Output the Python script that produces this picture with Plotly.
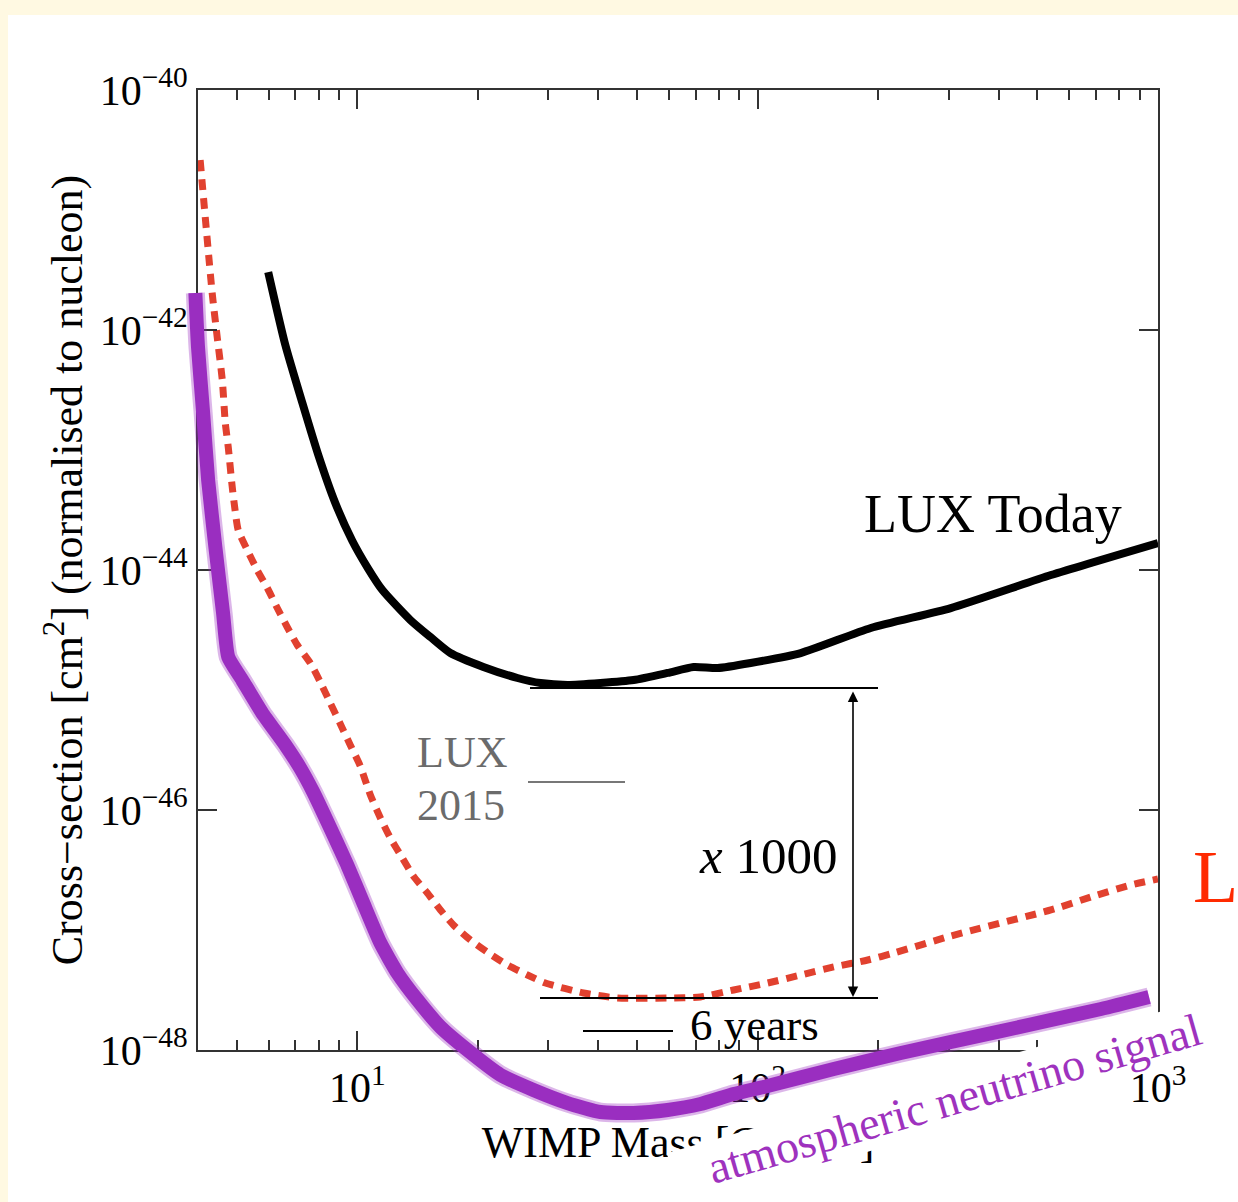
import numpy as np
import plotly.graph_objects as go

# ---------------- data ----------------
# WIMP mass [GeV] and log10(cross-section [cm^2])
lux_today_mass = [5.99, 6.61, 7.29, 7.99, 8.81, 9.72, 10.66, 11.55, 13.57, 15.22, 17.08, 20.65,
                  25.12, 28.68, 33.5, 40.5, 48.98, 59.57, 69.18, 79.43, 96.05, 128.1, 191.7,
                  303.7, 540.1, 1000.0]
lux_today_logsig = [-41.517, -42.125, -42.608, -43.042, -43.442, -43.758, -43.992, -44.167, -44.417,
                    -44.558, -44.692, -44.808, -44.9, -44.942, -44.958, -44.942, -44.917, -44.858,
                    -44.808, -44.817, -44.775, -44.692, -44.483, -44.317, -44.042, -43.775]

lux2015_mass = [4.05, 4.34, 4.47, 4.60, 4.68, 4.76, 4.87, 4.95, 5.04, 5.31, 5.62, 5.96, 6.31, 6.68,
                7.08, 7.63, 8.08, 8.56, 9.07, 9.60, 10.17, 10.78, 11.42, 12.09, 12.96, 13.80, 14.96,
                16.13, 17.38, 19.17, 21.27, 23.71, 26.61, 29.51, 36.73, 44.67, 59.57, 72.0, 87.1,
                105.9, 128.1, 154.9, 188.4, 218.8, 303.7, 540.1, 680.0, 856.0, 1000.0]
lux2015_logsig = [-40.583, -41.692, -42.067, -42.417, -42.775, -42.975, -43.308, -43.5, -43.667,
                  -43.833, -44.0, -44.15, -44.317, -44.475, -44.625, -44.775, -44.933, -45.108,
                  -45.283, -45.458, -45.633, -45.875, -46.067, -46.233, -46.4, -46.55, -46.692,
                  -46.833, -46.958, -47.083, -47.192, -47.292, -47.375, -47.442, -47.525, -47.567,
                  -47.567, -47.558, -47.5, -47.442, -47.375, -47.308, -47.25, -47.192, -47.05,
                  -46.833, -46.725, -46.625, -46.575]

nu_mass = [3.94, 4.0, 4.12, 4.24, 4.42, 4.62, 4.76, 5.16, 5.79, 6.61, 7.2, 7.76, 8.56, 9.44, 10.35,
           11.42, 12.59, 14.13, 16.13, 18.84, 22.79, 27.54, 33.5, 40.5, 48.98, 59.57, 72.0, 87.1,
           105.9, 154.9, 227.8, 405.1, 720.4, 949.8]
nu_logsig = [-41.692, -42.142, -42.692, -43.25, -43.808, -44.358, -44.725, -44.917, -45.192,
             -45.458, -45.65, -45.85, -46.15, -46.458, -46.775, -47.108, -47.358, -47.583,
             -47.808, -48.0, -48.208, -48.333, -48.442, -48.517, -48.525, -48.5, -48.45, -48.367,
             -48.3, -48.158, -48.025, -47.842, -47.658, -47.558]

x_tick_vals = [10, 100, 1000]
x_tick_text = ["10<sup>1</sup>", "10<sup>2</sup>", "10<sup>3</sup>"]
x_minor_vals = [5, 6, 7, 8, 9, 20, 30, 40, 50, 60, 70, 80, 90, 200, 300, 400, 500, 600, 700, 800, 900]
y_tick_exps = [-48, -46, -44, -42, -40]
y_tick_text = ["10<sup>\u2212%d</sup>" % abs(e) for e in y_tick_exps]

# ---------------- layout geometry ----------------
W, H = 1238, 1202
PL, PR, PT, PB = 198, 1158, 90, 1050   # plot frame in pixels
X_RANGE = [np.log10(4), 3.0]
Y_RANGE = [-48.0, -40.0]


def px(x):
    return x / W


def py(y):
    return 1 - y / H


ppd_x = (PR - PL) / (X_RANGE[1] - X_RANGE[0])
ppd_y = (PB - PT) / (Y_RANGE[1] - Y_RANGE[0])
X2_RANGE = [X_RANGE[0] - PL / ppd_x, X_RANGE[1] + (W - PR) / ppd_x]
Y2_RANGE = [Y_RANGE[0] - (H - PB) / ppd_y, Y_RANGE[1] + PT / ppd_y]

FONT = "Liberation Serif"
AXC = "#333333"
PURPLE = "#9A2EC0"

fig = go.Figure()
fig.add_trace(go.Scatter(x=lux_today_mass, y=10 ** np.array(lux_today_logsig), mode="lines",
                         line=dict(color="black", width=8, shape="spline", smoothing=0.6),
                         xaxis="x", yaxis="y", name="LUX Today"))
fig.add_trace(go.Scatter(x=lux2015_mass, y=10 ** np.array(lux2015_logsig), mode="lines",
                         line=dict(color="#E1412F", width=7, dash="11px,8px", shape="spline", smoothing=0.6),
                         xaxis="x", yaxis="y", name="LUX 2015"))
nu_y = 10 ** np.array(nu_logsig)
fig.add_trace(go.Scatter(x=nu_mass, y=nu_y, mode="lines",
                         line=dict(color="rgba(154,46,192,0.35)", width=19, shape="spline", smoothing=0.5),
                         xaxis="x2", yaxis="y2", hoverinfo="skip", name="atmospheric neutrino halo"))
fig.add_trace(go.Scatter(x=nu_mass, y=nu_y, mode="lines",
                         line=dict(color=PURPLE, width=14, shape="spline", smoothing=0.5),
                         xaxis="x2", yaxis="y2", name="atmospheric neutrino signal"))

axis_common = dict(showline=True, linecolor=AXC, linewidth=2, mirror="ticks", ticks="inside",
                   tickcolor=AXC, tickwidth=2, ticklen=19, showgrid=False, zeroline=False,
                   automargin=False, tickfont=dict(family=FONT, size=42, color="black"))

fig.update_layout(
    width=W, height=H,
    margin=dict(l=0, r=0, t=0, b=0),
    paper_bgcolor="#FFF9E2",
    plot_bgcolor="rgba(0,0,0,0)",
    showlegend=False,
    xaxis=dict(type="log", range=X_RANGE, domain=[px(PL), px(PR)], anchor="y",
               tickvals=x_tick_vals, ticktext=x_tick_text,
               minor=dict(tickvals=x_minor_vals, ticks="inside", ticklen=10, tickwidth=2, tickcolor=AXC),
               title=dict(text="WIMP Mass [GeV/c<sup>2</sup>]", font=dict(family=FONT, size=44, color="black"),
                          standoff=12),
               **axis_common),
    yaxis=dict(type="log", range=Y_RANGE, domain=[py(PB), py(PT)], anchor="x",
               tickvals=[10.0 ** e for e in y_tick_exps], ticktext=y_tick_text,
               title=dict(text="Cross\u2212section [cm<sup>2</sup>] (normalised to nucleon)",
                          font=dict(family=FONT, size=44, color="black"), standoff=3),
               **axis_common),
    xaxis2=dict(type="log", range=X2_RANGE, domain=[0, 1], anchor="y2", visible=False, fixedrange=True),
    yaxis2=dict(type="log", range=Y2_RANGE, domain=[0, 1], anchor="x2", visible=False, fixedrange=True),
)

# white panel
fig.add_shape(type="rect", xref="paper", yref="paper", x0=px(8), x1=px(W), y0=py(H), y1=py(15),
              fillcolor="white", line=dict(width=0), layer="below")

# guide lines
GUIDES = [  # (x0, x1, y, color)
    (530, 878, 688, "black"),
    (540, 878, 998, "black"),
    (528, 625, 782, "#777777"),
    (583, 673, 1031, "black"),
]
for x0, x1, yy, c in GUIDES:
    fig.add_shape(type="line", xref="paper", yref="paper", x0=px(x0), x1=px(x1), y0=py(yy), y1=py(yy),
                  line=dict(color=c, width=2), layer="above")

# double arrow
ARROW_X, ARROW_TOP, ARROW_BOT = 853, 690, 997
fig.add_annotation(xref="paper", yref="paper", x=px(ARROW_X), y=py(ARROW_BOT), ax=0,
                   ay=ARROW_TOP - ARROW_BOT, text="", showarrow=True, arrowhead=2, arrowsize=1.3,
                   arrowwidth=1.6, arrowcolor="black", arrowside="end+start", standoff=0, startstandoff=0)

LABELS = [  # text, x, y, size, color, xanchor
    ("LUX Today", 862, 514, 54, "black", "left"),
    ("LUX", 415, 752, 44, "#6B6B6B", "left"),
    ("2015", 415, 805, 44, "#6B6B6B", "left"),
    ("<i>x</i> 1000", 697, 856, 51, "black", "left"),
    ("6 years", 688, 1025, 45, "black", "left"),
    ("L", 1191, 877, 74, "#FF2A00", "left"),
]
for t, x, y, s, c, xa in LABELS:
    fig.add_annotation(xref="paper", yref="paper", x=px(x), y=py(y), text=t, showarrow=False,
                       xanchor=xa, yanchor="middle", font=dict(family=FONT, size=s, color=c))

fig.add_annotation(xref="paper", yref="paper", x=px(938), y=py(1103),
                   text="\u00a0\u00a0\u00a0atmospheric neutrino signal",
                   showarrow=False, xanchor="center", yanchor="middle", textangle=-16,
                   bgcolor="white", font=dict(family=FONT, size=46, color="#9E32BE"))

fig.write_html("out.html")
